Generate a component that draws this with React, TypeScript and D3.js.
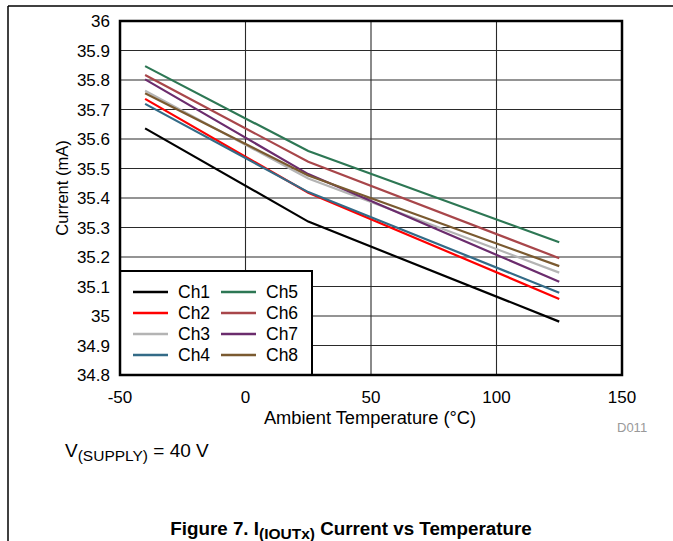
import React from "react";
import * as d3 from "d3";

const temps = [-40, 25, 125];
const seriesNames = ["Ch1", "Ch2", "Ch3", "Ch4", "Ch5", "Ch6", "Ch7", "Ch8"];
const ch1 = [35.636, 35.32, 34.981];
const ch2 = [35.736, 35.418, 35.058];
const ch3 = [35.764, 35.466, 35.147];
const ch4 = [35.719, 35.42, 35.079];
const ch5 = [35.847, 35.559, 35.25];
const ch6 = [35.817, 35.523, 35.196];
const ch7 = [35.802, 35.481, 35.116];
const ch8 = [35.755, 35.476, 35.169];
const seriesValues = [ch1, ch2, ch3, ch4, ch5, ch6, ch7, ch8];
const seriesColors = ["#000000", "#ff0000", "#b4b4b4", "#336b87", "#2d7754", "#a8464a", "#6b2c6d", "#7a5a30"];
const xTicks = [-50, 0, 50, 100, 150];
const yTicks = [34.8, 34.9, 35, 35.1, 35.2, 35.3, 35.4, 35.5, 35.6, 35.7, 35.8, 35.9, 36];

const FONT = "'Liberation Sans', Arial, Helvetica, sans-serif";

export default function App() {
  const left = 120, right = 622, top = 21, bottom = 375;
  const x = d3.scaleLinear().domain([-50, 150]).range([left, right]);
  const y = d3.scaleLinear().domain([34.8, 36]).range([bottom, top]);
  const line = d3
    .line<[number, number]>()
    .x((d) => x(d[0]))
    .y((d) => y(d[1]));

  const legLeft = 120, legTop = 271, legRight = 312;
  const rowY = (i: number) => 292 + i * 21;

  return (
    <svg
      width={673}
      height={541}
      style={{ position: "absolute", left: 0, top: 0, background: "#fff" }}
      fontFamily={FONT}
    >
      {/* outer frame */}
      <line x1={8} y1={6} x2={673} y2={6} stroke="#000" strokeWidth={1.5} />
      <line x1={8} y1={6} x2={8} y2={541} stroke="#000" strokeWidth={1.5} />

      {/* grid */}
      {xTicks.map((t) => (
        <line key={"gx" + t} x1={x(t)} x2={x(t)} y1={top} y2={bottom} stroke="#2a2a2a" strokeWidth={1.1} />
      ))}
      {yTicks.map((t) => (
        <line key={"gy" + t} x1={left} x2={right} y1={y(t)} y2={y(t)} stroke="#2a2a2a" strokeWidth={1.1} />
      ))}

      {/* series */}
      {seriesValues.map((vals, i) => (
        <path
          key={seriesNames[i]}
          d={line(temps.map((t, j) => [t, vals[j]] as [number, number])) || ""}
          fill="none"
          stroke={seriesColors[i]}
          strokeWidth={2.2}
        />
      ))}

      {/* legend */}
      <rect
        x={legLeft}
        y={legTop}
        width={legRight - legLeft}
        height={bottom - legTop}
        fill="#fff"
        stroke="#000"
        strokeWidth={2}
      />
      {seriesNames.map((name, i) => {
        const col = Math.floor(i / 4);
        const row = i % 4;
        const lx = col === 0 ? 133 : 221;
        return (
          <g key={"leg" + name}>
            <line x1={lx} x2={lx + 35} y1={rowY(row)} y2={rowY(row)} stroke={seriesColors[i]} strokeWidth={2.5} />
            <text x={lx + 45} y={rowY(row)} dy="0.35em" fontSize={17.5} fill="#000">
              {name}
            </text>
          </g>
        );
      })}

      {/* plot border */}
      <rect x={left} y={top} width={right - left} height={bottom - top} fill="none" stroke="#000" strokeWidth={2.5} />

      {/* y tick labels */}
      {yTicks.map((t) => (
        <text key={"ty" + t} x={110} y={y(t)} dy="0.36em" textAnchor="end" fontSize={17} fill="#000">
          {d3.format("~g")(t)}
        </text>
      ))}
      {/* x tick labels */}
      {xTicks.map((t) => (
        <text key={"tx" + t} x={x(t)} y={403} textAnchor="middle" fontSize={17} fill="#000">
          {t}
        </text>
      ))}

      {/* axis titles */}
      <text x={370} y={424} textAnchor="middle" fontSize={18.3} fill="#000">
        Ambient Temperature (°C)
      </text>
      <text transform="translate(68,188) rotate(-90)" textAnchor="middle" fontSize={16.5} fill="#000">
        Current (mA)
      </text>

      <text x={617} y={432} fontSize={13} fill="#999">
        D011
      </text>

      <text x={65} y={457} fontSize={19} fill="#000">
        V
        <tspan fontSize={15.5} dy={4}>(SUPPLY)</tspan>
        <tspan dy={-4}> = 40 V</tspan>
      </text>

      <text x={351} y={535} textAnchor="middle" fontSize={18.8} fontWeight="bold" fill="#000">
        Figure 7. I
        <tspan fontSize={15.5} dy={4}>(IOUTx)</tspan>
        <tspan dy={-4}> Current vs Temperature</tspan>
      </text>
    </svg>
  );
}
